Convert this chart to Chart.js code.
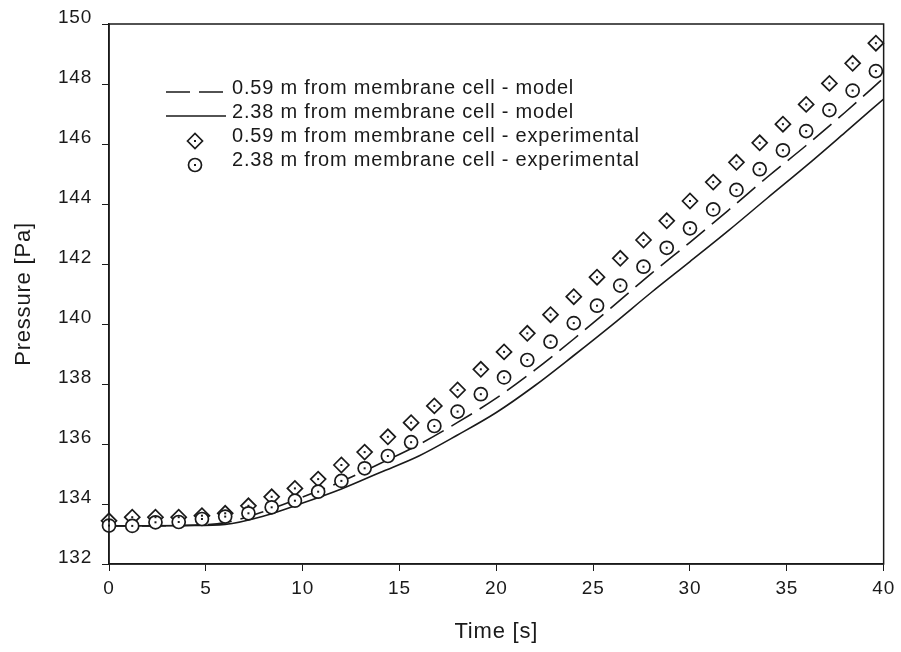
<!DOCTYPE html>
<html>
<head>
<meta charset="utf-8">
<script src="https://cdn.jsdelivr.net/npm/chart.js@4.4.1/dist/chart.umd.min.js"></script>
<style>
    html, body { margin: 0; padding: 0; background: #fff; }
    #wrap { width: 901px; height: 652px; }
</style>
</head>
<body>
<div id="wrap"><canvas id="pressureChart"></canvas></div>
<script>
// Datos
const modelTime = [0, 2, 4, 6, 8, 10, 12, 14, 16, 18, 20, 22, 24, 26, 28, 30, 32, 34, 36, 38, 40];
const model059 = [133.27, 133.27, 133.29, 133.38, 133.75, 134.23, 134.75, 135.35, 135.98, 136.72, 137.53,
    138.47, 139.5, 140.58, 141.68, 142.72, 143.8, 144.9, 145.95, 147.05, 148.2];
const model238 = [133.27, 133.27, 133.28, 133.32, 133.6, 134.03, 134.5, 135.05, 135.6, 136.3, 137.05,
    137.95, 138.95, 139.98, 141.05, 142.08, 143.12, 144.2, 145.27, 146.38, 147.5];

const expTime = [0, 1.2, 2.4, 3.6, 4.8, 6, 7.2, 8.4, 9.6, 10.8, 12, 13.2, 14.4, 15.6, 16.8, 18, 19.2,
    20.4, 21.6, 22.8, 24, 25.2, 26.4, 27.6, 28.8, 30, 31.2, 32.4, 33.6, 34.8, 36, 37.2, 38.4, 39.6];
const exp059 = [133.44, 133.56, 133.56, 133.56, 133.61, 133.69, 133.94, 134.24, 134.52, 134.83, 135.3,
    135.73, 136.24, 136.71, 137.27, 137.8, 138.49, 139.07, 139.69, 140.31, 140.91, 141.56, 142.19,
    142.8, 143.44, 144.1, 144.73, 145.39, 146.04, 146.66, 147.32, 148.02, 148.69, 149.36];
const exp238 = [133.28, 133.27, 133.39, 133.4, 133.5, 133.58, 133.69, 133.89, 134.11, 134.41, 134.77,
    135.19, 135.6, 136.06, 136.6, 137.08, 137.66, 138.22, 138.8, 139.41, 140.03, 140.61, 141.28,
    141.91, 142.54, 143.19, 143.82, 144.47, 145.16, 145.79, 146.43, 147.13, 147.78, 148.43];

const seriesNames = [
    "0.59 m from membrane cell - model",
    "2.38 m from membrane cell - model",
    "0.59 m from membrane cell - experimental",
    "2.38 m from membrane cell - experimental",
];

const INK = "#1a1a1a";
const FONT = "'Liberation Sans', Arial, sans-serif";

function toPoints(xs, ys) {
    return xs.map((x, i) => ({ x: x, y: ys[i] }));
}

// Letras un poco separadas, como en el escaneo
const spacing = {
    id: "spacing",
    beforeLayout(chart) { chart.ctx.letterSpacing = "0.8px"; },
    beforeDraw(chart) { chart.ctx.letterSpacing = "0.8px"; },
};

// Punto central dentro de cada marcador
const centerDots = {
    id: "centerDots",
    afterDatasetsDraw(chart) {
        const ctx = chart.ctx;
        chart.data.datasets.forEach((ds, i) => {
            if (!ds.centerDot) return;
            ctx.save();
            ctx.fillStyle = INK;
            chart.getDatasetMeta(i).data.forEach((pt) => {
                ctx.fillRect(pt.x - 1, pt.y - 1, 2, 2);
            });
            ctx.restore();
        });
    },
};

// Marco alrededor del area de la grafica
const frame = {
    id: "frame",
    afterDraw(chart) {
        const a = chart.chartArea;
        const ctx = chart.ctx;
        ctx.save();
        ctx.strokeStyle = INK;
        ctx.lineWidth = 1.5;
        ctx.strokeRect(a.left, a.top, a.right - a.left, a.bottom - a.top);
        ctx.restore();
    },
};

// Leyenda dentro de la grafica
const innerLegend = {
    id: "innerLegend",
    afterDraw(chart) {
        const ctx = chart.ctx;
        const x0 = 166, y0 = 88, rowH = 24, sampleW = 60;
        chart.data.datasets.forEach((ds, i) => {
            const y = y0 + i * rowH;
            ctx.save();
            ctx.strokeStyle = INK;
            ctx.fillStyle = "#fff";
            ctx.lineWidth = ds.borderWidth;
            if (ds.showLine) {
                ctx.setLineDash(ds.borderDash || []);
                ctx.beginPath();
                ctx.moveTo(x0, y + 4);
                ctx.lineTo(x0 + sampleW, y + 4);
                ctx.stroke();
            } else {
                Chart.helpers.drawPoint(ctx, {
                    pointStyle: ds.pointStyle,
                    radius: ds.pointRadius,
                    borderWidth: ds.borderWidth,
                    rotation: 0,
                }, x0 + 29, y + 5);
                ctx.fillStyle = INK;
                ctx.fillRect(x0 + 28, y + 4, 2, 2);
            }
            ctx.setLineDash([]);
            ctx.fillStyle = INK;
            ctx.font = "20px " + FONT;
            ctx.textBaseline = "middle";
            ctx.fillText(ds.label, x0 + sampleW + 6, y);
            ctx.restore();
        });
    },
};

const ctx = document.getElementById("pressureChart").getContext("2d");
new Chart(ctx, {
    type: "scatter",
    data: {
        datasets: [
            {
                label: seriesNames[0],
                data: toPoints(modelTime, model059),
                showLine: true,
                borderColor: INK,
                borderWidth: 1.6,
                borderDash: [24, 9],
                pointRadius: 0,
                cubicInterpolationMode: "monotone",
                order: 3,
            },
            {
                label: seriesNames[1],
                data: toPoints(modelTime, model238),
                showLine: true,
                borderColor: INK,
                borderWidth: 1.6,
                pointRadius: 0,
                cubicInterpolationMode: "monotone",
                order: 2,
            },
            {
                label: seriesNames[2],
                data: toPoints(expTime, exp059),
                pointStyle: "rectRot",
                pointRadius: 7.5,
                borderWidth: 1.7,
                borderColor: INK,
                backgroundColor: "#fff",
                centerDot: true,
                clip: false,
                order: 1,
            },
            {
                label: seriesNames[3],
                data: toPoints(expTime, exp238),
                pointStyle: "circle",
                pointRadius: 6.5,
                borderWidth: 1.7,
                borderColor: INK,
                backgroundColor: "#fff",
                centerDot: true,
                clip: false,
                order: 0,
            },
        ],
    },
    options: {
        responsive: true,
        maintainAspectRatio: false,
        animation: false,
        layout: { padding: { left: 0, top: 24, right: 17, bottom: 0 } },
        plugins: {
            legend: { display: false },
            tooltip: { enabled: false },
        },
        scales: {
            x: {
                type: "linear",
                min: 0,
                max: 40,
                afterFit: (scale) => { scale.height = 88; },
                ticks: { stepSize: 5, color: INK, padding: 6, font: { family: FONT, size: 19 } },
                grid: { drawOnChartArea: false, drawTicks: true, tickLength: 7, color: INK },
                border: { color: INK, width: 1.5 },
                title: {
                    display: true,
                    text: "Time [s]",
                    color: INK,
                    font: { family: FONT, size: 22 },
                    padding: { top: 4, bottom: 7 },
                },
            },
            y: {
                type: "linear",
                min: 132,
                max: 150,
                afterFit: (scale) => { scale.width = 109; },
                ticks: { stepSize: 2, color: INK, padding: 10, labelOffset: -6, font: { family: FONT, size: 19 } },
                grid: { drawOnChartArea: false, drawTicks: true, tickLength: 7, color: INK },
                border: { color: INK, width: 1.5 },
                title: {
                    display: true,
                    text: "Pressure [Pa]",
                    color: INK,
                    font: { family: FONT, size: 22 },
                    padding: { top: 11, bottom: 0 },
                },
            },
        },
    },
    plugins: [spacing, centerDots, frame, innerLegend],
});
</script>
</body>
</html>
